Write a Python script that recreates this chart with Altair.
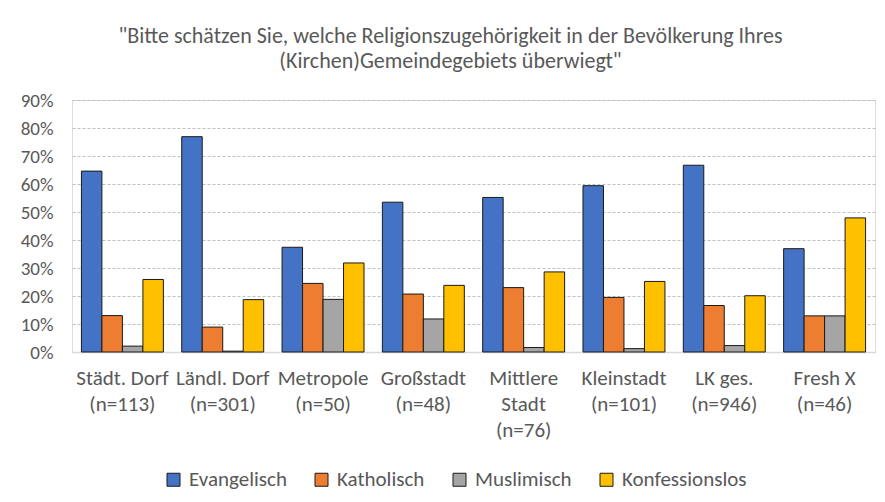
import altair as alt
import pandas as pd

categories = ["Städt. Dorf\n(n=113)", "Ländl. Dorf\n(n=301)", "Metropole\n(n=50)", "Großstadt\n(n=48)",
              "Mittlere\nStadt\n(n=76)", "Kleinstadt\n(n=101)", "LK ges.\n(n=946)", "Fresh X\n(n=46)"]
series = ["Evangelisch", "Katholisch", "Muslimisch", "Konfessionslos"]
evangelisch = [0.646, 0.769, 0.374, 0.535, 0.552, 0.594, 0.667, 0.369]
katholisch = [0.130, 0.089, 0.245, 0.207, 0.230, 0.195, 0.166, 0.129]
muslimisch = [0.021, 0.003, 0.188, 0.118, 0.016, 0.012, 0.023, 0.129]
konfessionslos = [0.259, 0.187, 0.318, 0.238, 0.286, 0.252, 0.201, 0.479]
colors = ["#4472C4", "#ED7D31", "#A5A5A5", "#FFC000"]
title_lines = ['"Bitte schätzen Sie, welche Religionszugehörigkeit in der Bevölkerung Ihres',
               '(Kirchen)Gemeindegebiets überwiegt"']

rows = []
for s, vals in zip(series, [evangelisch, katholisch, muslimisch, konfessionslos]):
    for c, v in zip(categories, vals):
        rows.append({"cat": c, "series": s, "value": v})
df = pd.DataFrame(rows)

FONT = "Carlito, Calibri, 'Liberation Sans Narrow', Roboto, sans-serif"
TXT = "#595959"

chart = alt.Chart(df).mark_bar(stroke="#1a1a1a", strokeWidth=1).encode(
    x=alt.X("cat:N", sort=categories, title=None,
            scale=alt.Scale(paddingInner=0.183, paddingOuter=0.094),
            axis=alt.Axis(labelExpr="split(datum.label, '\\n')", labelAngle=0,
                          labelFontSize=21, labelColor=TXT, labelFont=FONT,
                          labelLineHeight=26, labelPadding=15, ticks=False,
                          domainColor="#D9D9D9", domainWidth=1.5, labelLimit=200)),
    xOffset=alt.XOffset("series:N", sort=series, scale=alt.Scale(paddingInner=0, paddingOuter=0)),
    y=alt.Y("value:Q", title=None,
            scale=alt.Scale(domain=[0, 0.9], nice=False),
            axis=alt.Axis(format=".0%", values=[i / 10 for i in range(10)],
                          labelFontSize=19, labelColor=TXT, labelFont=FONT,
                          labelPadding=19, ticks=False, domain=False,
                          gridColor="#BFBFBF", gridDash=[3, 2], gridWidth=1)),
    color=alt.Color("series:N", sort=series, title=None,
                    scale=alt.Scale(domain=series, range=colors),
                    legend=alt.Legend(orient="none", legendX=91, legendY=369,
                                      direction="horizontal", symbolType="square",
                                      symbolSize=169, symbolStrokeColor="#1a1a1a",
                                      symbolStrokeWidth=1, labelFontSize=21,
                                      labelColor=TXT, labelFont=FONT,
                                      columnPadding=24, labelOffset=5)),
).properties(
    width=803, height=252,
    title=alt.TitleParams(title_lines, fontSize=22, color=TXT, font=FONT, fontWeight="normal",
                          anchor="middle", dx=-23, offset=18, lineHeight=25),
    autosize=alt.AutoSizeParams(type="none"),
    padding={"left": 64, "top": 92, "right": 2, "bottom": 142},
).configure_view(stroke=None).configure(background="white")

chart.save("out.html", embed_options={"renderer": "svg", "actions": False})
